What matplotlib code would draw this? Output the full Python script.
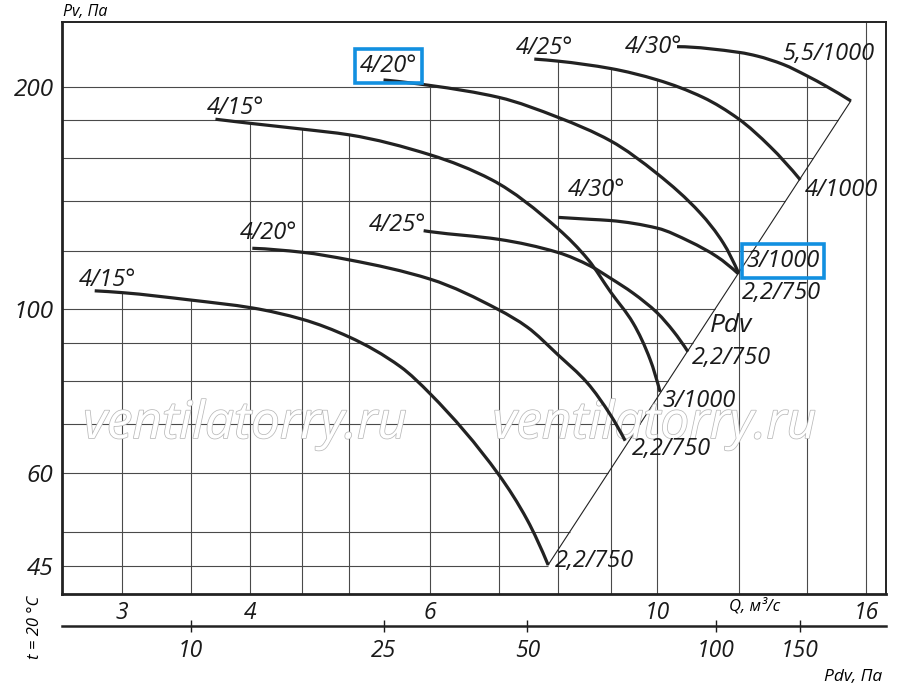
import numpy as np
import matplotlib.pyplot as plt
import matplotlib.patheffects as pe
from matplotlib.path import Path
from matplotlib.patches import PathPatch
from matplotlib.ticker import NullLocator

plt.rcParams['font.family'] = ['Open Sans', 'DejaVu Sans']
plt.rcParams['font.style'] = 'italic'

# Q, м3/с  -> Pv, Па
q_15_750 = [2.82, 3.0, 3.5, 4.02, 4.5, 5.0, 5.61, 6.0, 7.0, 7.46, 7.82]
p_15_750 = [105.9, 105.3, 102.9, 100.4, 96.9, 91.7, 83.6, 76.8, 59.7, 51.9, 45.1]

q_20_750 = [4.02, 4.5, 5.0, 6.0, 7.0, 7.46, 8.0, 8.54, 9.0, 9.30]
p_20_750 = [120.9, 119.4, 116.6, 109.8, 99.8, 94.6, 86.7, 79.5, 71.9, 66.4]

q_25_750 = [5.91, 6.0, 7.0, 8.0, 8.60, 9.0, 9.47, 10.0, 10.37, 10.71]
p_25_750 = [127.7, 127.3, 124.3, 119.3, 114.4, 110.1, 105.1, 98.8, 93.3, 87.6]

q_30_750 = [8.0, 8.60, 9.0, 10.0, 10.76, 11.43, 12.0]
p_30_750 = [133.1, 132.3, 131.8, 128.7, 123.4, 117.8, 111.6]

q_15_1000 = [3.70, 4.0, 4.5, 5.0, 6.0, 6.89, 8.0, 8.56, 9.0, 9.47, 9.84, 10.06]
p_15_1000 = [180.7, 178.4, 175.2, 172.1, 161.7, 149.6, 128.4, 116.6, 105.5, 95.7, 85.4, 77.3]

q_20_1000 = [5.40, 6.0, 7.0, 8.0, 9.0, 10.0, 11.01, 11.60, 12.0]
p_20_1000 = [204.2, 200.7, 193.4, 181.7, 168.9, 152.4, 134.9, 122.8, 112.0]

q_25_1000 = [7.58, 8.0, 9.0, 10.0, 11.08, 12.0, 12.88, 13.79]
p_25_1000 = [217.9, 216.5, 211.6, 204.2, 193.4, 180.9, 166.0, 149.6]

q_30_1000 = [10.45, 12.04, 12.51, 13.27, 14.0, 14.63, 15.45]
p_30_1000 = [226.5, 222.4, 220.0, 214.3, 206.8, 200.1, 191.3]

blade_labels = ['4/15°', '4/20°', '4/25°', '4/30°', '4/15°', '4/20°', '4/25°', '4/30°']
motor_labels = ['2,2/750', '2,2/750', '2,2/750', '2,2/750', '3/1000', '3/1000', '4/1000', '5,5/1000']

q_grid = [3, 3.5, 4, 4.5, 5, 6, 7, 8, 9, 10, 12, 14, 16]
p_grid = [45, 50, 60, 70, 80, 90, 100, 120, 140, 160, 180, 200]
q_ticks = [3, 4, 6, 10, 16]
p_ticks = [45, 60, 100, 200]

# шкала динамического давления: значение Pdv и соответствующий ему Q
pdv_ticks = [10, 25, 50, 100, 150]
pdv_at_q = [3.5, 5.405, 7.464, 11.41, 13.77]

series = [(q_15_750, p_15_750), (q_20_750, p_20_750), (q_25_750, p_25_750),
          (q_30_750, p_30_750), (q_15_1000, p_15_1000), (q_20_1000, p_20_1000),
          (q_25_1000, p_25_1000), (q_30_1000, p_30_1000)]

xlim = (2.62, 16.71)
ylim = (41.2, 244.8)

fig = plt.figure(figsize=(9, 6.89), dpi=100)
ax = fig.add_axes([62 / 900, 1 - 594 / 689, 823.7 / 900, 572.3 / 689])
ax.set_xscale('log')
ax.set_yscale('log')
ax.set_xlim(*xlim)
ax.set_ylim(*ylim)


def pchip_slopes(x, y):
    h = np.diff(x)
    d = np.diff(y) / h
    n = len(x)
    m = np.zeros(n)
    for i in range(1, n - 1):
        if d[i - 1] * d[i] > 0:
            w1 = 2 * h[i] + h[i - 1]
            w2 = h[i] + 2 * h[i - 1]
            m[i] = (w1 + w2) / (w1 / d[i - 1] + w2 / d[i])
    for k, (h0, h1, d0, d1) in ((0, (h[0], h[1], d[0], d[1])),
                                (n - 1, (h[-1], h[-2], d[-1], d[-2]))):
        e = ((2 * h0 + h1) * d0 - h0 * d1) / (h0 + h1)
        if e * d0 <= 0:
            e = 0.0
        elif d0 * d1 <= 0 and abs(e) > 3 * abs(d0):
            e = 3 * d0
        m[k] = e
    return m


def smooth_path(qs, ps):
    """Гладкая кривая (кубические сегменты Безье) через снятые точки, в лог-координатах."""
    x = np.log10(qs)
    y = np.log10(ps)
    m = pchip_slopes(x, y)
    verts = [(x[0], y[0])]
    codes = [Path.MOVETO]
    for i in range(len(x) - 1):
        h = x[i + 1] - x[i]
        verts += [(x[i] + h / 3, y[i] + m[i] * h / 3),
                  (x[i + 1] - h / 3, y[i + 1] - m[i + 1] * h / 3),
                  (x[i + 1], y[i + 1])]
        codes += [Path.CURVE4] * 3
    return Path(10 ** np.array(verts), codes)


grid_kw = dict(color='#4a4a4a', lw=0.8, zorder=1)


def top_at(q):
    tops = []
    for qs, ps in series:
        if qs[0] <= q <= qs[-1]:
            tops.append(np.exp(np.interp(np.log(q), np.log(qs), np.log(ps))))
    return max(tops) if tops else ylim[1]


diag_q = [q_15_750[-1], q_30_1000[-1]]
diag_p = [p_15_750[-1], p_30_1000[-1]]


def right_at(p):
    if p <= diag_p[1]:
        return np.exp(np.interp(np.log(p), np.log(diag_p), np.log(diag_q)))
    return np.exp(np.interp(np.log(p), np.log(p_30_1000[::-1]), np.log(q_30_1000[::-1])))


for q in q_grid:
    ax.vlines(q, ylim[0], top_at(q), **grid_kw)
for p in p_grid:
    ax.hlines(p, xlim[0], right_at(p), **grid_kw)

# линия Pdv через концы характеристик
ax.plot(diag_q, diag_p, color='#222222', lw=0.8, zorder=2)

for qs, ps in series:
    ax.add_patch(PathPatch(smooth_path(qs, ps), fc='none', ec='#222222', lw=2.3,
                           capstyle='butt', zorder=3))

box = dict(boxstyle='square,pad=0.2', fc='none', ec='#1290e0', lw=2.6)
start_off = [(13, 11), (16, 15), (-26, 6), (38, 27), (20, 11), (5, 14), (10, 11), (-23, 0)]
end_off = [(7, 4), (7, -8), (4, -6), (3, -19), (2, -9), (8, 12), (5, -10), (-69, 47)]
for i, (qs, ps) in enumerate(series):
    ax.annotate(blade_labels[i], (qs[0], ps[0]), xytext=start_off[i],
                textcoords='offset pixels', ha='center', va='center', fontsize=17,
                color='#1a1a1a', bbox=box if i == 5 else None, zorder=4)
    ax.annotate(motor_labels[i], (qs[-1], ps[-1]), xytext=end_off[i],
                textcoords='offset pixels', ha='left', va='center', fontsize=17,
                color='#1a1a1a', bbox=box if i == 5 else None, zorder=4)

ax.text(0.812, 0.47, 'Pdv', transform=ax.transAxes, ha='center', va='center',
        fontsize=19, color='#1a1a1a')

for xw in (0.222, 0.719):
    ax.text(xw, 0.296, 'ventilatorry.ru', transform=ax.transAxes, ha='center',
            va='center', fontsize=37, color='white', zorder=2,
            path_effects=[pe.withStroke(linewidth=1.1, foreground='#b9b9b9')])

ax.set_xticks(q_ticks, labels=[str(v) for v in q_ticks])
ax.set_yticks(p_ticks, labels=[str(v) for v in p_ticks])
ax.xaxis.set_minor_locator(NullLocator())
ax.yaxis.set_minor_locator(NullLocator())
ax.tick_params(axis='x', length=0, pad=5, labelsize=16.5, colors='#1a1a1a')
ax.tick_params(axis='y', length=0, pad=6, labelsize=17.5, colors='#1a1a1a')
for s in ('left', 'bottom'):
    ax.spines[s].set_linewidth(2.0)
for s in ('top', 'right'):
    ax.spines[s].set_linewidth(1.4)
for s in ax.spines.values():
    s.set_color('#222222')

# нижняя шкала Pdv
ax2 = fig.add_axes([62 / 900, 1 - 626 / 689, 823.7 / 900, 0.0005])
ax2.set_xscale('log')
ax2.set_xlim(*xlim)
ax2.set_xticks(pdv_at_q, labels=[str(v) for v in pdv_ticks])
ax2.xaxis.set_minor_locator(NullLocator())
ax2.set_yticks([])
ax2.patch.set_visible(False)
for s in ('left', 'right', 'top'):
    ax2.spines[s].set_visible(False)
ax2.spines['bottom'].set_linewidth(1.8)
ax2.spines['bottom'].set_color('#222222')
ax2.tick_params(axis='x', direction='inout', length=9, width=1, pad=5,
                labelsize=16.5, colors='#1a1a1a')

fig.text(63 / 900, 1 - 12 / 689, 'Pv, Па', ha='left', va='center', fontsize=11.5)
fig.text(755 / 900, 1 - 606 / 689, 'Q, м³/с', ha='center', va='center', fontsize=12)
fig.text(853 / 900, 1 - 677 / 689, 'Pdv, Па', ha='center', va='center', fontsize=12.5)
fig.text(35 / 900, 1 - 627 / 689, 't = 20 °C', ha='center', va='center',
         rotation=90, fontsize=12)

fig.savefig('out.png', dpi=100)
